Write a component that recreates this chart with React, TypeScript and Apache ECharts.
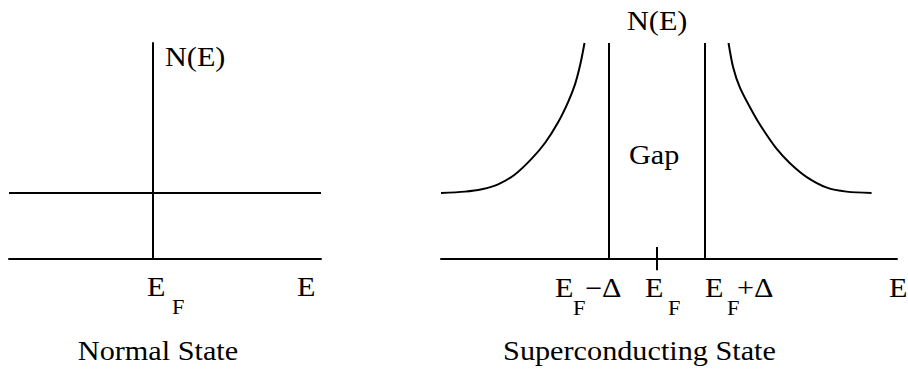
import React, { useEffect, useRef } from "react";
import * as echarts from "echarts";

// ---- data (energy in units of the gap Δ, density of states in units of the normal N(E_F)) ----
const normalRange: [number, number] = [-3, 3.5];
const normalDos = 1;
const scRange: [number, number] = [-4.5, 5];
const gapEdges: number[] = [-1, 1];
const dosTop = 3.27;
const gapTick: [number, number] = [-0.17, 0.18];
const leftBranch: [number, number][] = [
  [-4.5, 1.0], [-4.0, 1.02], [-3.65, 1.056], [-3.31, 1.13], [-2.96, 1.28],
  [-2.61, 1.52], [-2.33, 1.76], [-2.06, 2.07], [-1.85, 2.38], [-1.71, 2.64],
  [-1.6, 2.94], [-1.51, 3.27],
];
const rightBranch: [number, number][] = [
  [1.49, 3.27], [1.59, 2.89], [1.73, 2.59], [2.01, 2.2], [2.21, 1.96],
  [2.49, 1.67], [2.77, 1.45], [3.12, 1.24], [3.54, 1.08], [3.95, 1.02],
  [4.47, 1.0],
];

const FONT = "Liberation Serif";
const SX = 1.12;

function txt(text: string, x: number, y: number, size: number, align = "left") {
  return {
    type: "text",
    x,
    y,
    scaleX: SX,
    silent: true,
    style: {
      text,
      fontSize: size,
      fontFamily: FONT,
      fill: "#000",
      textAlign: align,
      align,
      textVerticalAlign: "middle",
      verticalAlign: "middle",
    },
  };
}

const lineStyle = { color: "#000", width: 2 };

export default function App() {
  const ref = useRef<HTMLDivElement>(null);
  useEffect(() => {
    document.body.style.margin = "0";
    document.body.style.overflow = "hidden";
    if (!ref.current) return;
    const chart = echarts.init(ref.current, undefined, { renderer: "svg" });
    const hiddenAxis = {
      axisTick: { show: false },
      axisLabel: { show: false },
      splitLine: { show: false },
    };
    const plain = (data: [number, number][], xi: number, extra: any = {}) => ({
      type: "line",
      xAxisIndex: xi,
      yAxisIndex: xi,
      data,
      symbol: "none",
      lineStyle,
      silent: true,
      clip: false,
      ...extra,
    });
    chart.setOption({
      animation: false,
      backgroundColor: "#fff",
      textStyle: { fontFamily: FONT },
      grid: [
        { left: 9, top: 43, width: 312, height: 216 },
        { left: 441, top: 43, width: 456, height: 216 },
      ],
      xAxis: [
        {
          gridIndex: 0, type: "value", min: normalRange[0], max: normalRange[1],
          axisLine: { show: true, onZero: true, lineStyle }, ...hiddenAxis,
        },
        {
          gridIndex: 1, type: "value", min: scRange[0], max: scRange[1],
          axisLine: { show: true, onZero: true, lineStyle }, ...hiddenAxis,
        },
      ],
      yAxis: [
        {
          gridIndex: 0, type: "value", min: 0, max: dosTop,
          axisLine: { show: true, onZero: true, lineStyle }, ...hiddenAxis,
        },
        {
          gridIndex: 1, type: "value", min: 0, max: dosTop,
          axisLine: { show: false }, ...hiddenAxis,
        },
      ],
      series: [
        plain([[normalRange[0], normalDos], [normalRange[1], normalDos]], 0),
        plain(leftBranch, 1, { smooth: 0.3 }),
        plain(rightBranch, 1, { smooth: 0.3 }),
        ...gapEdges.map((g) => plain([[g, 0], [g, dosTop]], 1)),
        plain([[0, gapTick[0]], [0, gapTick[1]]], 1),
      ],
      graphic: [
        // normal state
        txt("N(E)", 165, 57, 27),
        txt("E", 147, 287, 27),
        txt("F", 172, 307, 20),
        txt("E", 297, 287, 27),
        txt("Normal State", 158, 351, 27, "center"),
        // superconducting state
        txt("N(E)", 627, 21, 27),
        txt("Gap", 629, 155, 27),
        txt("E", 555, 288, 27),
        txt("F", 573, 308, 20),
        txt("\u2212\u0394", 585, 288, 27),
        txt("E", 645, 288, 27),
        txt("F", 668, 308, 20),
        txt("E", 705, 288, 27),
        txt("F", 727, 308, 20),
        txt("+\u0394", 737, 288, 27),
        txt("E", 889, 288, 27),
        txt("Superconducting State", 639.5, 351, 27, "center"),
      ],
    });
    return () => chart.dispose();
  }, []);
  return <div ref={ref} style={{ width: 908, height: 369 }} />;
}
